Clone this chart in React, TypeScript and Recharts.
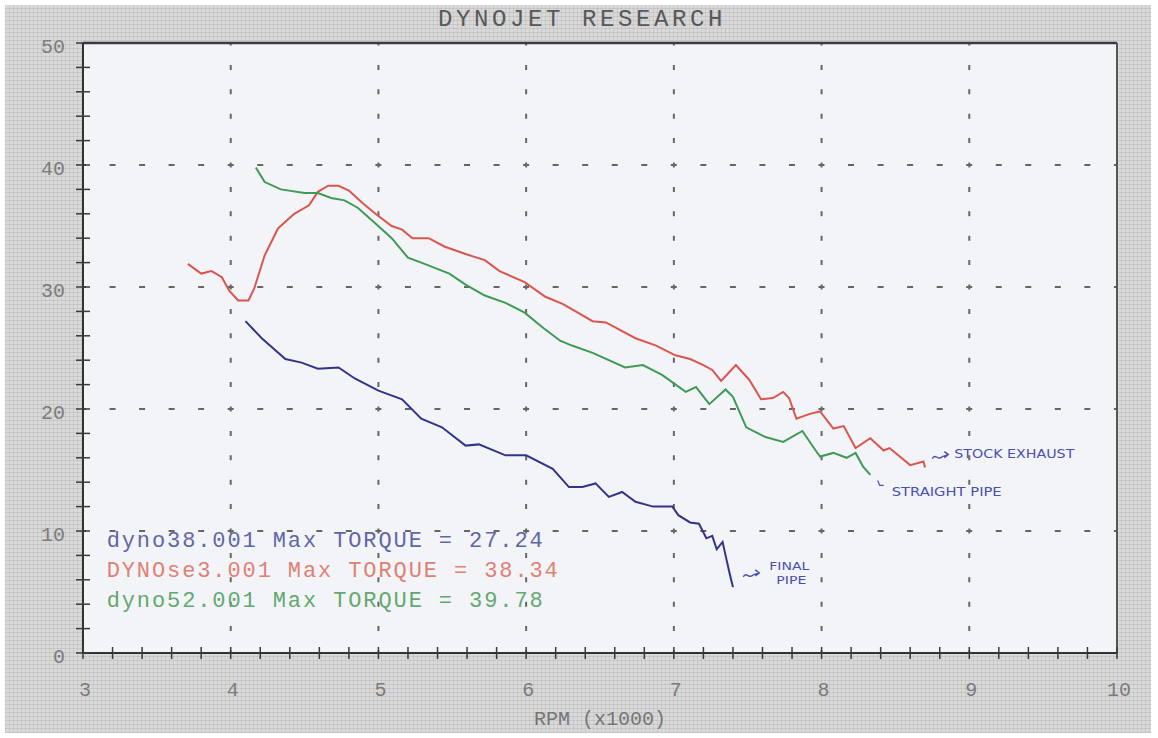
import React from 'react';
import { LineChart, Line, XAxis, YAxis, CartesianGrid, ReferenceLine, ReferenceDot } from 'recharts';

// ---- data ----
const redRpm = [3.71, 3.8, 3.87, 3.94, 3.99, 4.05, 4.12, 4.16, 4.23, 4.32, 4.43, 4.53, 4.59, 4.66, 4.73, 4.8, 4.89, 4.98, 5.09, 5.16, 5.23, 5.34, 5.45, 5.59, 5.72, 5.82, 5.99, 6.13, 6.25, 6.45, 6.54, 6.74, 6.88, 7.01, 7.11, 7.2, 7.26, 7.32, 7.42, 7.51, 7.59, 7.67, 7.74, 7.78, 7.83, 7.92, 7.99, 8.08, 8.15, 8.23, 8.33, 8.42, 8.46, 8.6, 8.69, 8.7];
const redTorque = [31.9, 31.1, 31.3, 30.8, 29.7, 28.9, 28.9, 29.9, 32.6, 34.8, 36.0, 36.7, 37.8, 38.3, 38.3, 37.9, 36.9, 36.0, 35.0, 34.7, 34.0, 34.0, 33.3, 32.7, 32.2, 31.3, 30.4, 29.2, 28.6, 27.2, 27.1, 25.8, 25.2, 24.4, 24.1, 23.6, 23.2, 22.3, 23.6, 22.4, 20.8, 20.9, 21.4, 20.9, 19.2, 19.6, 19.8, 18.4, 18.6, 16.8, 17.6, 16.6, 16.8, 15.4, 15.7, 15.2];

const greenRpm = [4.17, 4.23, 4.34, 4.5, 4.59, 4.68, 4.77, 4.86, 4.98, 5.09, 5.2, 5.29, 5.48, 5.59, 5.72, 5.86, 5.99, 6.11, 6.23, 6.31, 6.45, 6.67, 6.79, 6.92, 7.08, 7.15, 7.24, 7.35, 7.4, 7.49, 7.62, 7.74, 7.87, 7.96, 7.99, 8.08, 8.17, 8.23, 8.28, 8.33];
const greenTorque = [39.8, 38.6, 38.0, 37.7, 37.7, 37.3, 37.1, 36.5, 35.2, 34.0, 32.4, 32.0, 31.1, 30.2, 29.3, 28.7, 27.9, 26.7, 25.6, 25.2, 24.6, 23.4, 23.6, 22.8, 21.4, 21.8, 20.4, 21.6, 21.0, 18.5, 17.7, 17.3, 18.2, 16.6, 16.1, 16.4, 16.0, 16.4, 15.3, 14.6];

const blueRpm = [4.1, 4.21, 4.37, 4.48, 4.59, 4.73, 4.84, 5.0, 5.16, 5.29, 5.43, 5.59, 5.68, 5.86, 6.0, 6.18, 6.29, 6.38, 6.47, 6.56, 6.65, 6.74, 6.86, 6.99, 7.03, 7.11, 7.17, 7.22, 7.26, 7.29, 7.33, 7.35, 7.38, 7.4];
const blueTorque = [27.2, 25.8, 24.1, 23.8, 23.3, 23.4, 22.5, 21.5, 20.8, 19.2, 18.5, 17.0, 17.1, 16.2, 16.2, 15.1, 13.6, 13.6, 13.9, 12.8, 13.2, 12.4, 12.0, 12.0, 11.3, 10.7, 10.6, 9.4, 9.6, 8.5, 9.1, 8.0, 6.4, 5.4];

const legendLabels = [
  'dyno38.001 Max TORQUE = 27.24',
  'DYNOse3.001 Max TORQUE = 38.34',
  'dyno52.001 Max TORQUE = 39.78',
];

const xTickValues = Array.from({ length: 36 }, (_, i) => Math.round((3 + i * 0.2) * 10) / 10);
const yTickValues = Array.from({ length: 26 }, (_, i) => i * 2);
const xGridValues = [4, 5, 6, 7, 8, 9];
const yGridValues = [10, 20, 30, 40];

const toPoints = (rpm: number[], torque: number[]) => rpm.map((r, i) => ({ rpm: r, t: torque[i] }));
const redData = toPoints(redRpm, redTorque);
const greenData = toPoints(greenRpm, greenTorque);
const blueData = toPoints(blueRpm, blueTorque);

// ---- styles ----
const RED = '#d9564e';
const GREEN = '#3f9a55';
const BLUE = '#323586';
const LEGEND_COLORS = ['#6166a4', '#df8074', '#62a86f'];
const PEN = '#4a4fb2';
const MONO = '"Liberation Mono", "DejaVu Sans Mono", monospace';
const HAND = '"DejaVu Sans", sans-serif';

const isMajor = (v: number) => Math.abs(v - Math.round(v)) < 1e-6;

const XTick = (props: any) => {
  const { x, y, payload } = props;
  const v = payload.value;
  return (
    <g>
      <line x1={x} x2={x} y1={y - 6} y2={y + 6} stroke="#3a3a3a" strokeWidth={1.5} />
      {isMajor(v) && (
        <text x={x + 2} y={y + 43} textAnchor="middle" fontFamily={MONO} fontSize={20} fill="#7c7c7c">
          {Math.round(v)}
        </text>
      )}
    </g>
  );
};

const YTick = (props: any) => {
  const { x, y, payload } = props;
  const v = payload.value;
  return (
    <g>
      <line x1={x - 7} x2={x + 7} y1={y} y2={y} stroke="#3a3a3a" strokeWidth={1.5} />
      {v % 10 === 0 && (
        <text x={x - 18} y={y + 10} textAnchor="end" fontFamily={MONO} fontSize={20} fill="#7c7c7c">
          {v}
        </text>
      )}
    </g>
  );
};

const legendShape = (idx: number) => (p: any) => (
  <text
    x={p.cx}
    y={p.cy}
    fontFamily={MONO}
    fontSize={22}
    letterSpacing={1.9}
    fill={LEGEND_COLORS[idx]}
  >
    {legendLabels[idx]}
  </text>
);

const squiggle = (cx: number, cy: number) =>
  `M${cx},${cy + 2} C${cx + 3},${cy - 4} ${cx + 6},${cy + 5} ${cx + 10},${cy} L${cx + 16},${cy - 2} M${cx + 12},${cy - 5} L${cx + 16},${cy - 2} L${cx + 12},${cy + 1}`;

const stockShape = (p: any) => (
  <g>
    <path d={squiggle(p.cx, p.cy)} stroke={PEN} strokeWidth={1.4} fill="none" />
    <text x={p.cx + 22} y={p.cy + 1} fontFamily={HAND} fontSize={12} fill={PEN} textLength={120} lengthAdjust="spacingAndGlyphs">
      STOCK EXHAUST
    </text>
  </g>
);

const straightShape = (p: any) => (
  <g>
    <path d={`M${p.cx},${p.cy - 3} L${p.cx + 2},${p.cy + 2} L${p.cx + 6},${p.cy + 2}`} stroke={PEN} strokeWidth={1.2} fill="none" />
    <text x={p.cx + 14} y={p.cy + 13} fontFamily={HAND} fontSize={12} fill={PEN} textLength={110} lengthAdjust="spacingAndGlyphs">
      STRAIGHT PIPE
    </text>
  </g>
);

const finalShape = (p: any) => (
  <g>
    <path d={squiggle(p.cx, p.cy)} stroke={PEN} strokeWidth={1.4} fill="none" />
    <text x={p.cx + 26} y={p.cy - 5} fontFamily={HAND} fontSize={11} fill={PEN} textLength={40} lengthAdjust="spacingAndGlyphs">
      FINAL
    </text>
    <text x={p.cx + 33} y={p.cy + 9} fontFamily={HAND} fontSize={11} fill={PEN} textLength={30} lengthAdjust="spacingAndGlyphs">
      PIPE
    </text>
  </g>
);

const paper =
  'repeating-linear-gradient(0deg, rgba(0,0,0,0.08) 0px, rgba(0,0,0,0.08) 1px, transparent 1px, transparent 4px),' +
  'repeating-linear-gradient(90deg, rgba(0,0,0,0.06) 0px, rgba(0,0,0,0.06) 1px, transparent 1px, transparent 4px)';

export default function App() {
  return (
    <div style={{ position: 'absolute', left: 0, top: 0, width: 1158, height: 738, background: '#ffffff', overflow: 'hidden' }}>
      <div
        style={{
          position: 'absolute',
          left: 5,
          top: 5,
          width: 1146,
          height: 728,
          backgroundColor: '#d9d9d9',
          backgroundImage: paper,
        }}
      />
      <div
        style={{
          position: 'absolute',
          left: 382,
          top: 7,
          width: 400,
          textAlign: 'center',
          fontFamily: MONO,
          fontSize: 24,
          lineHeight: '26px',
          letterSpacing: 3.6,
          color: '#585858',
        }}
      >
        DYNOJET RESEARCH
      </div>
      <div style={{ position: 'absolute', left: 0, top: 0 }}>
        <LineChart width={1158} height={738} margin={{ top: 43, right: 41, bottom: 0, left: 0 }}>
          <CartesianGrid fill="#f3f4f8" stroke="none" horizontal={false} vertical={false} />
          <XAxis
            dataKey="rpm"
            type="number"
            domain={[3, 10]}
            ticks={xTickValues}
            interval={0}
            allowDataOverflow
            height={85}
            tickSize={0}
            tickMargin={0}
            tickLine={false}
            tick={<XTick />}
            axisLine={{ stroke: '#333', strokeWidth: 2 }}
            label={{ value: 'RPM (x1000)', position: 'insideBottom', offset: 13, fontFamily: MONO, fontSize: 20, fill: '#767676' }}
          />
          <YAxis
            type="number"
            domain={[0, 50]}
            ticks={yTickValues}
            interval={0}
            allowDataOverflow
            width={83}
            tickSize={0}
            tickMargin={0}
            tickLine={false}
            tick={<YTick />}
            axisLine={{ stroke: '#333', strokeWidth: 2 }}
          />
          {xGridValues.map((v) => (
            <ReferenceLine key={'gx' + v} x={v} stroke="#666" strokeWidth={2} strokeDasharray="5 19.4" strokeDashoffset={2.5} />
          ))}
          {yGridValues.map((v) => (
            <ReferenceLine key={'gy' + v} y={v} stroke="#666" strokeWidth={2} strokeDasharray="6 23.54" strokeDashoffset={3} />
          ))}
          <ReferenceLine y={50} stroke="#3a3a3a" strokeWidth={2.5} />
          <ReferenceLine x={10} stroke="#555" strokeWidth={2} />
          <Line data={redData} dataKey="t" type="linear" stroke={RED} strokeWidth={2} dot={false} isAnimationActive={false} />
          <Line data={greenData} dataKey="t" type="linear" stroke={GREEN} strokeWidth={2} dot={false} isAnimationActive={false} />
          <Line data={blueData} dataKey="t" type="linear" stroke={BLUE} strokeWidth={2} dot={false} isAnimationActive={false} />
          <ReferenceDot x={3.16} y={8.7} r={0} ifOverflow="visible" shape={legendShape(0)} />
          <ReferenceDot x={3.16} y={6.25} r={0} ifOverflow="visible" shape={legendShape(1)} />
          <ReferenceDot x={3.16} y={3.8} r={0} ifOverflow="visible" shape={legendShape(2)} />
          <ReferenceDot x={8.75} y={16.1} r={0} ifOverflow="visible" shape={stockShape} />
          <ReferenceDot x={8.38} y={13.9} r={0} ifOverflow="visible" shape={straightShape} />
          <ReferenceDot x={7.47} y={6.4} r={0} ifOverflow="visible" shape={finalShape} />
        </LineChart>
      </div>
    </div>
  );
}
